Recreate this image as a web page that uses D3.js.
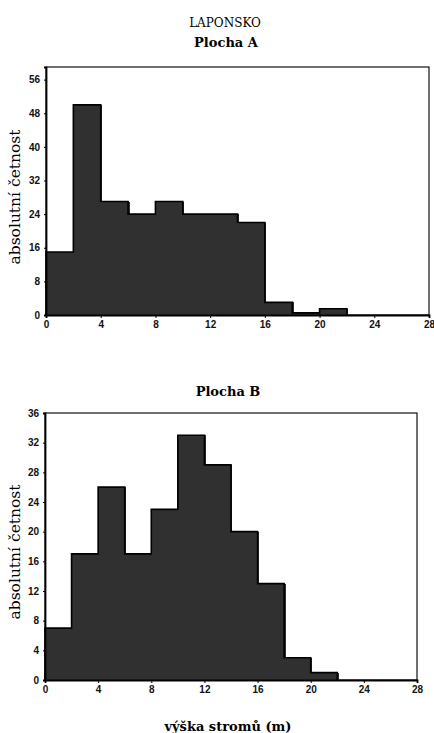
<!DOCTYPE html>
<html>
<head>
<meta charset="utf-8">
<script src="https://cdn.jsdelivr.net/npm/d3@7"></script>
<style>
  body { margin: 0; background: #fff; }
  svg { display: block; }
</style>
</head>
<body>
<svg></svg>
<script>
let width = 434,
  height = 733;

// bin edges (m) and counts
let binStarts = [0, 2, 4, 6, 8, 10, 12, 14, 16, 18, 20];
let binWidth = 2;
let countsA = [15, 50, 27, 24, 27, 24, 24, 22, 3, 0.5, 1.5];
let countsB = [7, 17, 26, 17, 23, 33, 29, 20, 13, 3, 1];
let xTicks = [0, 4, 8, 12, 16, 20, 24, 28];
let yTicksA = [0, 8, 16, 24, 32, 40, 48, 56];
let yTicksB = [0, 4, 8, 12, 16, 20, 24, 28, 32, 36];

let svg = d3.select("svg").attr("width", width).attr("height", height);

let serif = "'DejaVu Serif', 'Liberation Serif', serif";
let sans = "'Liberation Sans', Arial, sans-serif";

// titles
svg.append("text").attr("x", 225).attr("y", 27)
  .attr("text-anchor", "middle").style("font-family", serif)
  .style("font-size", "12px").text("LAPONSKO");
svg.append("text").attr("x", 226).attr("y", 47)
  .attr("text-anchor", "middle").style("font-family", serif)
  .style("font-size", "13px").style("font-weight", "600").text("Plocha A");
svg.append("text").attr("x", 228).attr("y", 396)
  .attr("text-anchor", "middle").style("font-family", serif)
  .style("font-size", "13px").style("font-weight", "600").text("Plocha B");
svg.append("text").attr("x", 228).attr("y", 731)
  .attr("text-anchor", "middle").style("font-family", serif)
  .style("font-size", "13px").style("font-weight", "600").text("výška stromů (m)");

function drawHist(cfg) {
  let x = d3.scaleLinear().domain([0, 28]).range([cfg.left, cfg.right]);
  let y = d3.scaleLinear().domain([0, cfg.ymax]).range([cfg.bottom, cfg.top]);

  let g = svg.append("g");
  let bins = binStarts.map((s, i) => ({ s: s, v: cfg.counts[i] }));

  // frame
  g.append("rect")
    .attr("x", cfg.left).attr("y", cfg.top)
    .attr("width", cfg.right - cfg.left).attr("height", cfg.bottom - cfg.top)
    .attr("fill", "none").attr("stroke", "#111").attr("stroke-width", 1.2);

  // bars (filled, no separators)
  g.selectAll("rect.bar")
    .data(bins)
    .enter()
    .append("rect")
    .attr("class", "bar")
    .attr("x", (d) => Math.floor(x(d.s)))
    .attr("y", (d) => y(d.v))
    .attr("width", (d) => Math.ceil(x(d.s + binWidth)) - Math.floor(x(d.s)) + 1)
    .attr("height", (d) => y(0) - y(d.v))
    .attr("fill", "#303030")
    .attr("shape-rendering", "crispEdges");

  // step outline
  let pts = [[0, 0]];
  bins.forEach((d) => {
    pts.push([d.s, d.v]);
    pts.push([d.s + binWidth, d.v]);
  });
  pts.push([bins[bins.length - 1].s + binWidth, 0]);
  g.append("path")
    .attr("d", d3.line().x((p) => x(p[0])).y((p) => y(p[1]))(pts))
    .attr("fill", "none")
    .attr("stroke", "#000")
    .attr("stroke-width", 1.6);

  // axes
  let xAxis = d3.axisBottom(x).tickValues(xTicks).tickSize(3).tickPadding(3);
  let gx = g.append("g").attr("transform", "translate(0," + cfg.bottom + ")").call(xAxis);
  let yAxis = d3.axisLeft(y).tickValues(cfg.yticks).tickSize(2).tickPadding(4);
  let gy = g.append("g").attr("transform", "translate(" + cfg.left + ",0)").call(yAxis);

  [gx, gy].forEach((a) => {
    a.select(".domain").attr("stroke", "#000").attr("stroke-width", 1.8);
    a.selectAll(".tick line").attr("stroke", "#000");
    a.selectAll(".tick text")
      .style("font-family", sans)
      .style("font-size", "10px")
      .style("font-weight", "bold")
      .attr("fill", "#111");
  });

  // y label
  g.append("text")
    .attr("transform", "translate(" + cfg.labelX + "," + cfg.labelY + ") rotate(-90)")
    .attr("text-anchor", "middle")
    .style("font-family", serif)
    .style("font-size", "15.5px")
    .text("absolutní četnost");
}

drawHist({
  left: 46, right: 429, top: 67, bottom: 315, ymax: 59,
  counts: countsA, yticks: yTicksA, labelX: 20, labelY: 197
});

drawHist({
  left: 45, right: 417, top: 413, bottom: 680, ymax: 36,
  counts: countsB, yticks: yTicksB, labelX: 20, labelY: 552
});
</script>
</body>
</html>
